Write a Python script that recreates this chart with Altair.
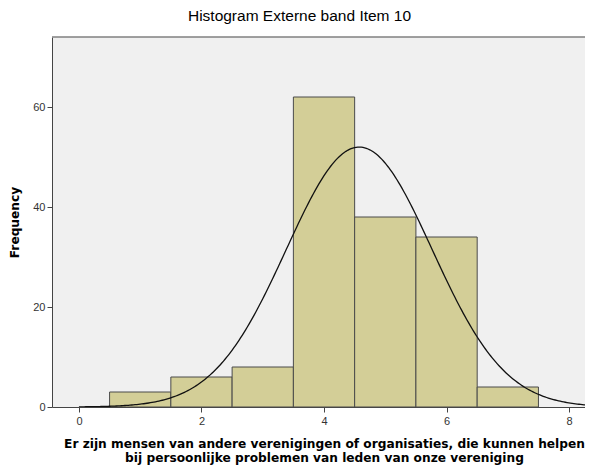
import altair as alt
import pandas as pd
import numpy as np

# Histogram data
values = [1, 2, 3, 4, 5, 6, 7]
freqs = [3, 6, 8, 62, 38, 34, 4]

bars = pd.DataFrame({
    "lo": [v - 0.5 for v in values],
    "hi": [v + 0.5 for v in values],
    "freq": freqs,
})

# Normal curve fitted on the histogram (mean / sd of the data)
n = sum(freqs)
mean = sum(v * f for v, f in zip(values, freqs)) / n
sd = np.sqrt(sum(f * (v - mean) ** 2 for v, f in zip(values, freqs)) / (n - 1))
xs = np.linspace(0.0, 8.3, 300)
curve = pd.DataFrame({
    "x": xs,
    "y": n * np.exp(-0.5 * ((xs - mean) / sd) ** 2) / (sd * np.sqrt(2 * np.pi)),
})

x_ticks = [0, 2, 4, 6, 8]
y_ticks = [0, 20, 40, 60]

W, H = 533, 370
xscale = alt.Scale(domain=[-0.44, 8.26], nice=False, zero=False)
yscale = alt.Scale(domain=[0, 74], nice=False)

axis_common = dict(
    labelFont="Liberation Sans", labelFontSize=11, labelColor="#333333",
    domainColor="#444444", tickColor="#444444", tickSize=5, grid=False,
    titleFont="DejaVu Sans", titleFontWeight="bold", titleFontSize=12.2,
    titleColor="#000000", format="d",
)

x_enc = alt.X("lo:Q", scale=xscale,
              axis=alt.Axis(values=x_ticks, title=[
                  "Er zijn mensen van andere verenigingen of organisaties, die kunnen helpen",
                  "bij persoonlijke problemen van leden van onze vereniging"],
                  titlePadding=11, titleLineHeight=14, titleX=272, titleAlign="center",
                  labelPadding=3, **axis_common))

hist = alt.Chart(bars).mark_rect(
    color="#d3ce97", stroke="#4a4a4a", strokeWidth=1
).encode(
    x=x_enc,
    x2="hi:Q",
    y=alt.Y("freq:Q", scale=yscale,
            axis=alt.Axis(values=y_ticks, title="Frequency", titlePadding=11,
                          labelPadding=2, **axis_common)),
    y2=alt.datum(0),
)

line = alt.Chart(curve).mark_line(color="#111111", strokeWidth=1.3, clip=True).encode(
    x=alt.X("x:Q", scale=xscale),
    y=alt.Y("y:Q", scale=yscale),
)

top_border = alt.Chart(pd.DataFrame({"a": [0]})).mark_rule(
    color="#808080", strokeWidth=1.6
).encode(x=alt.value(0), x2=alt.value(W), y=alt.value(0))

chart = alt.layer(hist, line, top_border).properties(
    width=W, height=H,
    title=alt.TitleParams("Histogram Externe band Item 10", font="Liberation Sans",
                          fontSize=15.5, fontWeight="normal", color="#000000",
                          anchor="middle", offset=12, dx=-19),
    padding={"left": 44, "top": 29, "right": 0, "bottom": 63},
    autosize=alt.AutoSizeParams(type="none"),
).configure(
    background="#ffffff"
).configure_view(
    fill="#f0f0f0", strokeWidth=0
)

chart.save("out.html", embed_options={"renderer": "svg", "actions": False})
